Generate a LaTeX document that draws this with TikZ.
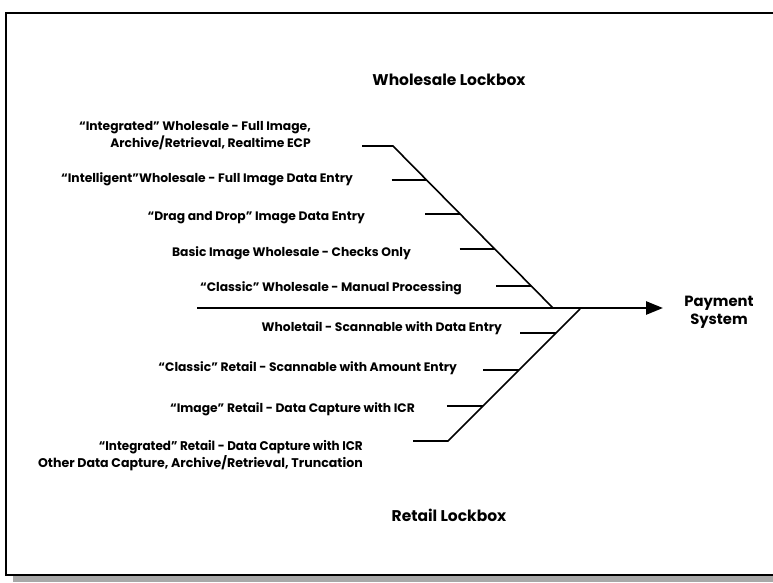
\documentclass[tikz,border=0pt]{standalone}
\usepackage{fontspec}
\setmainfont{Poppins}
\usetikzlibrary{arrows.meta}
\usetikzlibrary{calc}
\usetikzlibrary{positioning}
\definecolor{shadowgray}{HTML}{A8A8A8}
\tikzstyle{cause} = [font=\bfseries\fontsize{12.3}{17}\selectfont, anchor=east, align=right, inner sep=0pt]
\tikzstyle{narrow} = [font=\bfseries\fontsize{12.6}{17}\selectfont, anchor=east, align=right, inner sep=0pt]
\tikzstyle{heading} = [font=\bfseries\fontsize{15.5}{18}\selectfont, inner sep=0pt]
\tikzstyle{bone} = [line width=1.6pt]
\tikzstyle{arrow} = [-{Triangle[length=17pt,width=13pt]}, line width=2.6pt]

\begin{document}
\begin{tikzpicture}[x=1pt, y=-1pt]

  \useasboundingbox (0,0) rectangle (773,582);
  \fill[shadowgray] (13,575) rectangle (773,582);
  \draw[line width=1.3pt] (6,13) rectangle (785,575);

  \node[heading] (whole) at (449,80) {Wholesale Lockbox};
  \node[heading] (retail) at (449,515) {Retail Lockbox};
  \node[heading, font=\bfseries\fontsize{14.8}{18}\selectfont, align=center] (pay) at (719,312) {Payment\\System};

  % spine
  \coordinate (tail) at (197,308);
  \coordinate (head) at (663,308);
  \draw[arrow] (tail) -- (head);

  % wholesale bone
  \coordinate (wtop) at (393,146);
  \coordinate (wend) at (553,308);
  \coordinate (wcap) at (362,146);
  \draw[bone] (wcap) -- (wtop) -- (wend);
  \foreach \t [count=\i] in {0.21, 0.42, 0.635, 0.865} {
    \coordinate (w\i) at ($(wtop)!\t!(wend)$);
    \coordinate (wl\i) at ($(w\i)+(-35,0)$);
    \draw[bone] (wl\i) -- (w\i);
  }

  % retail bone
  \coordinate (rtop) at (580,309);
  \coordinate (rbot) at (448,441);
  \coordinate (rcap) at (413,441);
  \draw[bone] (rtop) -- (rbot) -- (rcap);
  \foreach \t [count=\i] in {0.18, 0.46, 0.735} {
    \coordinate (r\i) at ($(rtop)!\t!(rbot)$);
    \coordinate (rl\i) at ($(r\i)+(-36,0)$);
    \draw[bone] (rl\i) -- (r\i);
  }

  % wholesale causes
  \node[cause] (integw) at (311,135.5) {“Integrated” Wholesale - Full Image,\\Archive/Retrieval, Realtime ECP};
  \node[cause] (intel) at (353,179) {“Intelligent”Wholesale - Full Image Data Entry};
  \node[cause] (drag) at (365,218) {“Drag and Drop” Image Data Entry};
  \node[cause] (basic) at (411,253) {Basic Image Wholesale - Checks Only};
  \node[cause] (classw) at (462,288) {“Classic” Wholesale - Manual Processing};

  % retail causes
  \node[cause] (wtail) at (502,328) {Wholetail - Scannable with Data Entry};
  \node[cause] (classr) at (457,368) {“Classic” Retail - Scannable with Amount Entry};
  \node[cause] (image) at (415,409) {“Image” Retail - Data Capture with ICR};
  \node[narrow] (integr) at (363,455.5) {\scalebox{0.95}[1]{“Integrated” Retail - Data Capture with ICR}\\Other Data Capture, Archive/Retrieval, Truncation};

\end{tikzpicture}
\end{document}
